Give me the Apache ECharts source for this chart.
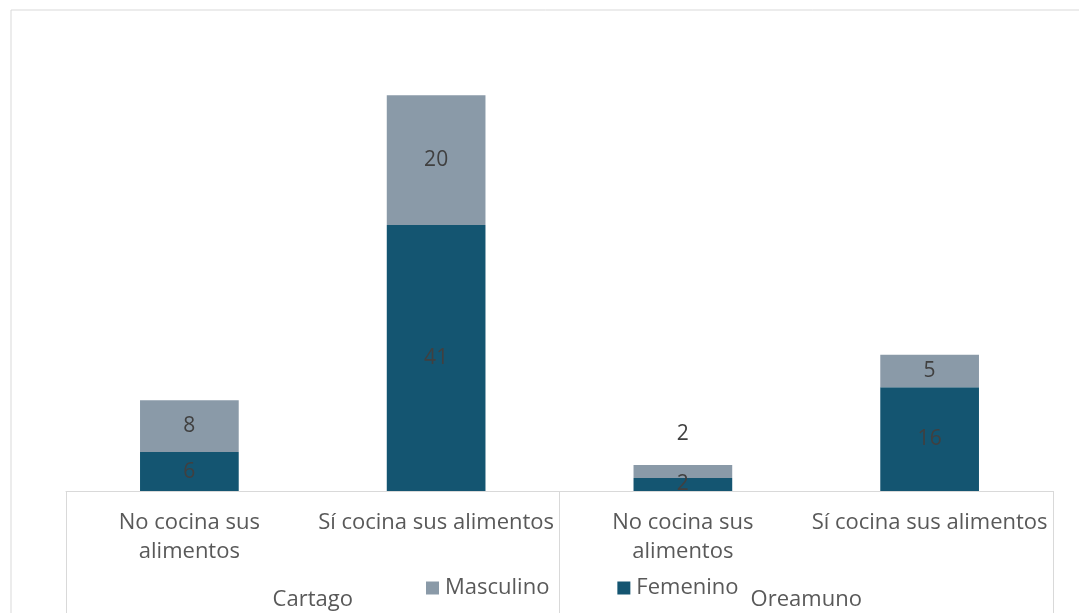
<!DOCTYPE html>
<html>
<head>
<meta charset="utf-8">
<script src="https://cdn.jsdelivr.net/npm/echarts@6/dist/echarts.min.js"></script>
<style>
  html, body { margin: 0; padding: 0; background: #ffffff; }
  #chart { width: 1079px; height: 613px; }
</style>
</head>
<body>
<div id="chart"></div>
<script>
// Categories (inner level) and their grouping (outer level)
const categories = ['No cocina sus\nalimentos', 'Sí cocina sus alimentos', 'No cocina sus\nalimentos', 'Sí cocina sus alimentos'];
const groups = ['Cartago', 'Oreamuno'];

// Counts per sex
const femenino = [6, 41, 2, 16];
const masculino = [8, 20, 2, 5];

const FONT = '"Open Sans", "Noto Sans", sans-serif';
const COLOR_FEM = '#145571';
const COLOR_MASC = '#8a9aa8';
const LINE = '#d9d9d9';
const TEXT = '#595959';

const chart = echarts.init(document.getElementById('chart'));

// The small Masculino segment in Oreamuno gets its label above the bar
const masculinoData = masculino.map((v, i) => (
  i === 2 ? { value: v, label: { position: 'top', distance: 21 } } : v
));

chart.setOption({
  animation: false,
  textStyle: { fontFamily: FONT },
  graphic: [{
    type: 'rect',
    shape: { x: 11, y: 10, width: 1100, height: 700 },
    style: { fill: 'none', stroke: LINE, lineWidth: 1 },
    silent: true,
    z: -10
  }],
  legend: {
    data: ['Masculino', 'Femenino'],
    left: 421,
    top: 572,
    icon: 'rect',
    itemWidth: 13,
    itemHeight: 13,
    itemGap: 68,
    textStyle: { color: TEXT, fontSize: 22, fontFamily: FONT, padding: [0, 0, 0, 1] }
  },
  grid: { left: 66, right: 26, top: 37, bottom: 122 },
  xAxis: [{
    type: 'category',
    data: categories,
    axisLine: { show: true, lineStyle: { color: LINE, width: 1 } },
    axisTick: { show: false },
    axisLabel: {
      color: TEXT,
      fontSize: 22,
      fontFamily: FONT,
      lineHeight: 29,
      verticalAlign: 'top',
      margin: 17,
      interval: 0
    }
  }, {
    type: 'category',
    data: groups,
    position: 'bottom',
    axisLine: { show: false },
    axisTick: { show: true, length: 130, lineStyle: { color: LINE, width: 1 } },
    axisLabel: {
      color: TEXT,
      fontSize: 22,
      fontFamily: FONT,
      lineHeight: 24,
      verticalAlign: 'top',
      margin: 97
    }
  }],
  yAxis: {
    type: 'value',
    min: 0,
    max: 70,
    show: false,
    splitLine: { show: false }
  },
  series: [{
    name: 'Femenino',
    type: 'bar',
    stack: 'total',
    barWidth: '40%',
    data: femenino,
    itemStyle: { color: COLOR_FEM },
    label: { show: true, position: 'inside', color: '#404040', fontSize: 21, fontFamily: FONT }
  }, {
    name: 'Masculino',
    type: 'bar',
    stack: 'total',
    barWidth: '40%',
    data: masculinoData,
    itemStyle: { color: COLOR_MASC },
    label: { show: true, position: 'inside', color: '#404040', fontSize: 21, fontFamily: FONT }
  }]
});
</script>
</body>
</html>
